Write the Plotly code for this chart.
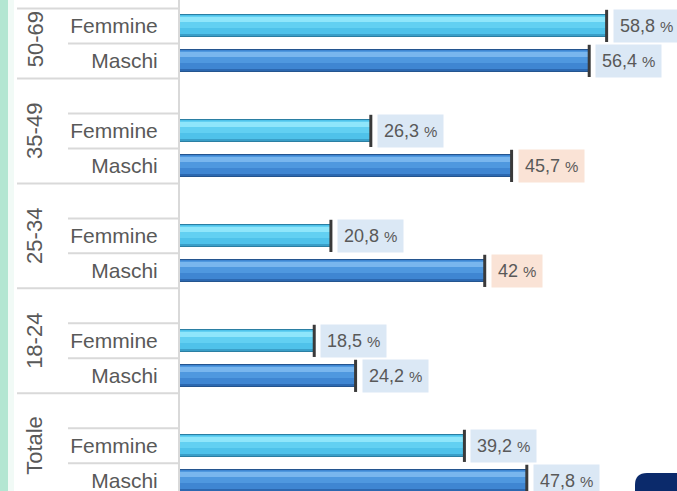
import plotly.graph_objects as go

# ---- data ----
groups = ["Totale", "18-24", "25-34", "35-49", "50-69"]   # bottom -> top
sexes = ["Maschi", "Femmine"]
maschi = [47.8, 24.2, 42.0, 45.7, 56.4]
femmine = [39.2, 18.5, 20.8, 26.3, 58.8]
value_labels_m = ["47,8", "24,2", "42", "45,7", "56,4"]
value_labels_f = ["39,2", "18,5", "20,8", "26,3", "58,8"]
highlighted = [("35-49", "Maschi"), ("25-34", "Maschi")]

# ---- layout helpers ----
W, H = 677, 491
L = 180
XMAX = 68.5
YMIN, YMAX = -0.29, 13.74
STEP = 3  # rows per group: Maschi, Femmine, blank
FONT = "Liberation Sans, Arial, sans-serif"
GREY = "#595959"

def row_pos(gi, sex):
    return gi * STEP + (0 if sex == "Maschi" else 1)

def px2paper_x(px):
    return (px - L) / (W - L)

fig = go.Figure()

styles = {
    "Femmine": dict(base="#3a9fc8", low="#4fc2ea", mid="#62d0f2", hi="#8fe6fb", edge="#2b7fa3"),
    "Maschi": dict(base="#2c68b0", low="#3f86d2", mid="#4f98df", hi="#79b6ee", edge="#24558f"),
}
BW = 0.63

for sex, vals in (("Femmine", femmine), ("Maschi", maschi)):
    ys = [row_pos(i, sex) for i in range(len(groups))]
    st = styles[sex]
    layers = [
        (BW, -BW / 2, st["base"], dict(color=st["edge"], width=1)),
        (BW * 0.84, -BW / 2 + BW * 0.14, st["low"], dict(width=0)),
        (BW * 0.55, -BW / 2 + BW * 0.40, st["mid"], dict(width=0)),
        (BW * 0.25, BW / 2 - BW * 0.33, st["hi"], dict(width=0)),
    ]
    for w, off, col, ln in layers:
        fig.add_trace(go.Bar(x=vals, y=ys, orientation="h", width=w, offset=off,
                             marker=dict(color=col, line=ln),
                             showlegend=False, hoverinfo="skip"))
    # dark end cap
    fig.add_trace(go.Scatter(x=vals, y=ys, mode="markers",
                             marker=dict(symbol="line-ns", size=23,
                                         line=dict(color="#3a3a3a", width=3)),
                             showlegend=False, hoverinfo="skip", cliponaxis=False))

# value label boxes
for sex, vals, labs in (("Femmine", femmine, value_labels_f), ("Maschi", maschi, value_labels_m)):
    for i, (v, lab) in enumerate(zip(vals, labs)):
        hl = (groups[i], sex) in highlighted
        fig.add_annotation(x=v, y=row_pos(i, sex), xref="x", yref="y",
                           text=f"{lab} <span style='font-size:15px'>%</span>",
                           showarrow=False, xanchor="left", yanchor="middle", xshift=6,
                           font=dict(family=FONT, size=18, color=GREY),
                           bgcolor="#fae3d6" if hl else "#dbe8f5", borderpad=6)

# group labels (rotated)
for gi, g in enumerate(groups):
    lo = gi * STEP
    hi = min(gi * STEP + 2, YMAX - 0.5)
    fig.add_annotation(x=px2paper_x(35), y=(lo + hi) / 2, xref="paper", yref="y",
                       text=g, textangle=-90, showarrow=False,
                       xanchor="center", yanchor="middle",
                       font=dict(family=FONT, size=22, color=GREY))

# separator lines in the label area
shapes = []
line_col = "#d9d9d9"
for gi in range(len(groups)):
    base = gi * STEP
    shapes.append(dict(type="line", xref="paper", yref="y", x0=px2paper_x(17), x1=0,
                       y0=base - 0.5, y1=base - 0.5, line=dict(color=line_col, width=2)))
    shapes.append(dict(type="line", xref="paper", yref="y", x0=px2paper_x(68), x1=0,
                       y0=base + 0.5, y1=base + 0.5, line=dict(color=line_col, width=2)))
    top = gi == len(groups) - 1
    shapes.append(dict(type="line", xref="paper", yref="y", x0=px2paper_x(17 if top else 68), x1=0,
                       y0=base + 1.5, y1=base + 1.5, line=dict(color=line_col, width=2)))

# left green strip
shapes.append(dict(type="rect", xref="paper", yref="paper", x0=px2paper_x(0), x1=px2paper_x(8),
                   y0=0, y1=1, fillcolor="#b3e6d2", line=dict(width=0), layer="below"))
shapes.append(dict(type="rect", xref="paper", yref="paper", x0=px2paper_x(8), x1=px2paper_x(14),
                   y0=0, y1=1, fillcolor="#f1faf6", line=dict(width=0), layer="below"))
# navy corner element
x0 = px2paper_x(635)
rx, ry = 12 / (W - L), 12 / H
ytop = (H - 473) / H
shapes.append(dict(type="path", xref="paper", yref="paper",
                   path=f"M {x0},-0.01 L {x0},{ytop - ry} Q {x0},{ytop} {x0 + rx},{ytop} "
                        f"L 1.02,{ytop} L 1.02,-0.01 Z",
                   fillcolor="#0b2a6b", line=dict(width=0)))

tickvals, ticktext = [], []
for gi in range(len(groups)):
    for sex in sexes:
        tickvals.append(row_pos(gi, sex))
        ticktext.append(sex)

fig.update_layout(
    width=W, height=H,
    margin=dict(l=L, r=0, t=0, b=0),
    paper_bgcolor="white", plot_bgcolor="white",
    barmode="overlay", bargap=0,
    shapes=shapes,
    xaxis=dict(range=[0, XMAX], showgrid=False, zeroline=False, showticklabels=False,
               showline=False, fixedrange=True),
    yaxis=dict(range=[YMIN, YMAX], tickvals=tickvals, ticktext=ticktext,
               showgrid=False, zeroline=False, showline=True, linecolor="#d9d9d9", linewidth=2,
               ticks="", ticklabelstandoff=16, ticklabeloverflow="allow",
               tickfont=dict(family=FONT, size=21, color=GREY), fixedrange=True),
)

fig.write_html("out.html", config={"displayModeBar": False},
               post_script="document.body.style.margin='0';document.body.style.overflow='hidden';")
